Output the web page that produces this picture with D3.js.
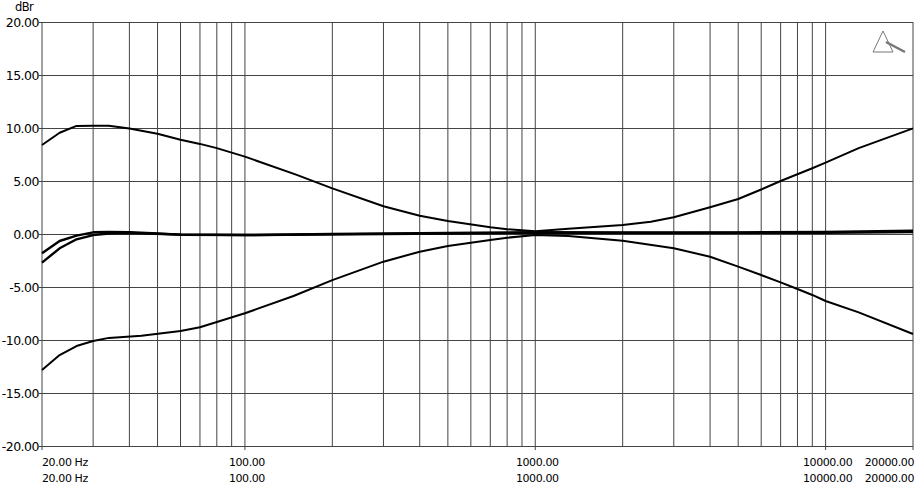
<!DOCTYPE html>
<meta charset="utf-8">
<style>
  body { margin: 0; background: #fff; }
  svg text { font-family: "DejaVu Sans", sans-serif; fill: #000; }
</style>
<svg width="915" height="484"></svg>
<script src="https://d3js.org/d3.v7.min.js"></script>
<script>

// frequency grid and axis labels
var gridFreqs = [20, 30, 40, 50, 60, 70, 80, 90, 100, 200, 300, 400, 500, 600, 700, 800, 900,
                 1000, 2000, 3000, 4000, 5000, 6000, 7000, 8000, 9000, 10000, 20000];
var labelFreqs = [20, 100, 1000, 10000, 20000];
var dbTicks = [-20, -15, -10, -5, 0, 5, 10, 15, 20];

// measured curves: [Hz, dBr]
var boostCurve = [[20, 8.4], [23, 9.55], [26.3, 10.2], [30, 10.22], [34, 10.22], [40, 9.95], [50, 9.45],
  [60, 8.9], [70, 8.5], [80, 8.1], [100, 7.3], [150, 5.6], [200, 4.3], [300, 2.62], [400, 1.73],
  [500, 1.23], [700, 0.63], [800, 0.45], [1000, 0.25], [1300, 0.5], [2000, 0.85], [2500, 1.16],
  [3000, 1.58], [4000, 2.52], [5000, 3.3], [6000, 4.2], [7000, 5.0], [9000, 6.2], [10000, 6.73],
  [13000, 8.1], [20000, 9.97]];
var cutCurve = [[20, -12.83], [23, -11.42], [26.3, -10.57], [30, -10.1], [34, -9.8], [44, -9.6],
  [60, -9.15], [70, -8.8], [100, -7.48], [147, -5.85], [200, -4.35], [300, -2.61], [400, -1.67],
  [500, -1.13], [700, -0.57], [800, -0.35], [1000, -0.1], [1300, -0.19], [2000, -0.63], [3000, -1.35],
  [4000, -2.14], [5000, -3.08], [6000, -3.87], [7000, -4.56], [8000, -5.19], [9000, -5.75],
  [10000, -6.32], [13000, -7.39], [20000, -9.43]];
var flatCurveA = [[20, -1.82], [23, -0.66], [26.3, -0.16], [30, 0.16], [34, 0.2], [40, 0.18], [50, 0.05],
  [60, -0.08], [100, -0.1], [200, 0], [500, 0.1], [1000, 0.18], [2000, 0.15], [5000, 0.15],
  [10000, 0.2], [20000, 0.3]];
var flatCurveB = [[20, -2.7], [23, -1.35], [26.3, -0.5], [30, -0.1], [34, 0.05], [40, 0.1], [60, -0.05],
  [100, -0.1], [300, 0], [1000, 0.1], [3000, 0.1], [10000, 0.12], [20000, 0.18]];

var svg = d3.select("svg");

var x = d3.scaleLog().domain([20, 20000]).range([42, 913]);
var y = d3.scaleLinear().domain([-20, 20]).range([446, 22]);

// grid
svg.append("g").selectAll("line")
  .data(dbTicks)
  .enter().append("line")
    .attr("x1", 39).attr("x2", 913)
    .attr("y1", function(d) { return Math.round(y(d)) + 0.5; })
    .attr("y2", function(d) { return Math.round(y(d)) + 0.5; })
    .attr("stroke", "#444");

svg.append("g").selectAll("line")
  .data(gridFreqs)
  .enter().append("line")
    .attr("x1", function(d) { return x(d); })
    .attr("x2", function(d) { return x(d); })
    .attr("y1", 22)
    .attr("y2", function(d) { return labelFreqs.indexOf(d) >= 0 ? 450 : 446; })
    .attr("stroke", "#444");

// y labels
svg.append("g").selectAll("text")
  .data(dbTicks)
  .enter().append("text")
    .attr("x", 39)
    .attr("y", function(d) { return y(d) + 4.5; })
    .attr("text-anchor", "end")
    .attr("font-size", 12.5)
    .attr("letter-spacing", -0.5)
    .text(function(d) { return d.toFixed(2); });

svg.append("text")
  .attr("x", 15).attr("y", 11)
  .attr("font-size", 11.5)
  .attr("letter-spacing", -0.6)
  .text("dBr");

// x labels, two rows
function xLabel(d) { return d.toFixed(2) + (d === 20 ? " Hz" : ""); }
function xAnchor(d) { return d === 20 ? "start" : d === 20000 ? "end" : "middle"; }
function xPos(d) { return d === 20 ? x(d) : d === 20000 ? x(d) + 1 : x(d) + 2; }

[465.5, 481.5].forEach(function(base) {
  svg.append("g").selectAll("text")
    .data(labelFreqs)
    .enter().append("text")
      .attr("x", xPos)
      .attr("y", base)
      .attr("text-anchor", xAnchor)
      .attr("font-size", 11)
      .attr("letter-spacing", -0.4)
      .text(xLabel);
});

// curves
var line = d3.line()
  .x(function(d) { return x(d[0]); })
  .y(function(d) { return y(d[1]); });

svg.append("g").selectAll("path")
  .data([boostCurve, cutCurve, flatCurveA, flatCurveB])
  .enter().append("path")
    .attr("d", line)
    .attr("fill", "none")
    .attr("stroke", "#000")
    .attr("stroke-width", function(d, i) { return i < 2 ? 2 : 2.4; })
    .attr("stroke-linejoin", "round");

// little logo at top right
var logo = svg.append("g").attr("stroke", "#777").attr("fill", "none");
logo.append("path")
  .attr("d", "M883,31L873,52L893,52Z")
  .attr("stroke-width", 1);
logo.append("line")
  .attr("x1", 886).attr("y1", 42).attr("x2", 905).attr("y2", 52)
  .attr("stroke-width", 2.5);

</script>
